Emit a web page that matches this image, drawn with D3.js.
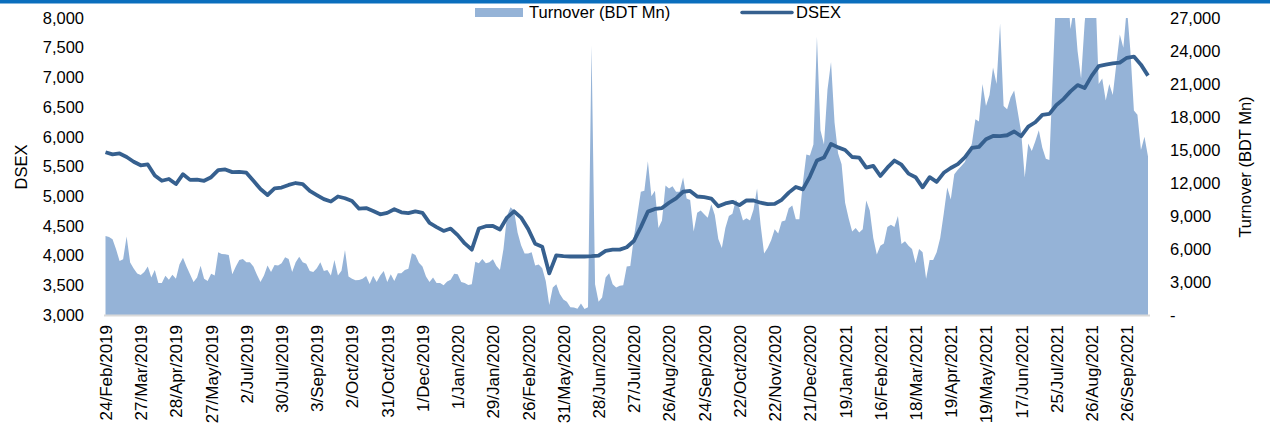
<!DOCTYPE html>
<html>
<head>
<meta charset="utf-8">
<script src="https://cdn.jsdelivr.net/npm/d3@7"></script>
<style>
  body { margin: 0; background: #fff; }
  svg { display: block; font-family: "Liberation Sans", Arial, sans-serif; }
</style>
</head>
<body>
<script>
// Chart size
var svgWidth = 1270;
var svgHeight = 428;

// x tick labels, one every 20 trading days
var tickLabels = ["24/Feb/2019", "27/Mar/2019", "28/Apr/2019", "27/May/2019", "2/Jul/2019",
  "30/Jul/2019", "3/Sep/2019", "2/Oct/2019", "31/Oct/2019", "1/Dec/2019", "1/Jan/2020",
  "29/Jan/2020", "26/Feb/2020", "31/May/2020", "28/Jun/2020", "27/Jul/2020", "26/Aug/2020",
  "24/Sep/2020", "22/Oct/2020", "22/Nov/2020", "21/Dec/2020", "19/Jan/2021", "16/Feb/2021",
  "18/Mar/2021", "19/Apr/2021", "19/May/2021", "17/Jun/2021", "25/Jul/2021", "26/Aug/2021",
  "26/Sep/2021"];
var tickEvery = 20;
var lastDay = 592;

// DSEX index, one value every 4 trading days
var dsexStep = 4;
var dsex = [
  5740, 5705, 5720, 5660, 5580, 5520, 5535, 5350, 5260, 5290,
  5205, 5370, 5275, 5280, 5260, 5320, 5438, 5450, 5405, 5410,
  5395, 5260, 5120, 5020, 5130, 5145, 5190, 5222, 5205, 5090,
  5020, 4950, 4910, 4995, 4965, 4918, 4790, 4800, 4750, 4695,
  4720, 4780, 4728, 4714, 4745, 4720, 4550, 4480, 4415, 4455,
  4345, 4205, 4100, 4455, 4495, 4499, 4440, 4640, 4745, 4640,
  4450, 4200, 4150, 3700, 4005, 3990, 3985, 3985, 3985, 3990,
  4000, 4080, 4100, 4100, 4140, 4245, 4480, 4740, 4785, 4800,
  4890, 4965, 5075, 5088, 4995, 4985, 4960, 4830, 4878, 4905,
  4850, 4930, 4928, 4890, 4865, 4870, 4940, 5060, 5155, 5115,
  5330, 5600, 5650, 5880, 5822, 5778, 5660, 5650, 5480, 5510,
  5340, 5480, 5600, 5530, 5380, 5320, 5150, 5320, 5240, 5394,
  5475, 5540, 5655, 5815, 5830, 5960, 6015, 6010, 6026, 6090,
  6010, 6170, 6245, 6370, 6385, 6535, 6635, 6765, 6870, 6820,
  7025, 7190, 7215, 7235, 7250, 7330, 7350, 7215, 7030
];

// Turnover (BDT Mn), one value every 2 trading days
var turnoverStep = 2;
var turnover = [
  7180, 7100, 6880, 5980, 4900, 5070, 7130, 4770, 4230, 3780,
  3630, 3900, 4400, 3420, 4100, 2900, 2900, 3560, 3200, 3650,
  3300, 4600, 5200, 4400, 3700, 3000, 3400, 4470, 3300, 3100,
  3750, 3600, 5700, 5550, 5530, 5450, 3700, 4400, 5000, 5100,
  4800, 4800, 4400, 3650, 3000, 3600, 4500, 3900, 4550, 4500,
  4700, 5250, 5100, 3900, 4800, 5300, 4800, 4650, 4000, 3900,
  4250, 4800, 4000, 4100, 3600, 5000, 3600, 4020, 5920, 3500,
  3300, 3150, 3180, 3300, 3550, 2810, 3560, 3000, 3600, 4000,
  3000, 3700, 3100, 3800, 3800, 4100, 4200, 5620, 5450, 4750,
  4400, 3500, 3000, 3400, 2900, 2900, 2700, 3050, 3200, 3750,
  3700, 3000, 2900, 2720, 2800, 4850, 4700, 5100, 4700, 4800,
  5070, 4450, 4100, 6000, 9000, 9800, 9500, 7500, 6350, 5600,
  5600, 5700, 4500, 4600, 4250, 3100, 900, 2500, 2800, 1900,
  1400, 1200, 700, 680, 560, 1050, 550, 700, 24500, 2800,
  1200, 1600, 3400, 3800, 2800, 2510, 2660, 2700, 4400, 4450,
  7000, 9100, 11200, 11300, 13980, 10800, 11300, 7900, 8600, 11780,
  11500, 11700, 11200, 11200, 12500, 10600, 10450, 7600, 9300, 9500,
  9150, 8850, 10060, 9100, 6900, 6100, 7900, 9000, 9200, 10500,
  9700, 8600, 8800, 8600, 9600, 11500, 8200, 5600, 6100, 6800,
  7800, 7400, 8500, 8600, 9700, 9950, 8700, 8700, 12000, 14600,
  14500, 15500, 25300, 16800, 15500, 20500, 23000, 17500, 14700, 13700,
  10200, 8800, 7600, 7900, 7490, 7800, 10400, 9500, 7000, 5500,
  6300, 6500, 8000, 8200, 8000, 9000, 6450, 6700, 6300, 6000,
  4700, 6000, 5700, 3300, 5000, 5000, 5700, 7000, 9200, 11600,
  10500, 12800, 13200, 13550, 13900, 14700, 15600, 17800, 17600, 21000,
  19000, 20000, 22500, 21000, 26500, 19000, 18700, 19800, 20400, 18500,
  16600, 12500, 15600, 14900, 15800, 16800, 15200, 14200, 14100, 22000,
  30000, 30000, 27500, 30000, 26000, 28000, 24000, 21500, 26500, 30000,
  27000, 30000, 21000, 21500, 19500, 21000, 20000, 22800, 25500, 24300,
  28000, 24000, 18600, 18200, 15000, 16200, 14400
];

// Axis ticks
var dsexTicks = [3000, 3500, 4000, 4500, 5000, 5500, 6000, 6500, 7000, 7500, 8000];
var turnoverTicks = [0, 3000, 6000, 9000, 12000, 15000, 18000, 21000, 24000, 27000];

// Plot area
var plot = { left: 104, right: 1150, top: 18, bottom: 315 };

var svg = d3.select("body")
  .append("svg")
  .attr("width", svgWidth)
  .attr("height", svgHeight);

// blue rule across the top
svg.append("rect")
  .attr("x", 0).attr("y", 0)
  .attr("width", svgWidth).attr("height", 3.5)
  .attr("fill", "#0a6ebd");

// Scales
var x = d3.scaleLinear()
  .domain([0, lastDay])
  .range([105.5, 1148]);

var yLeft = d3.scaleLinear()
  .domain([3000, 8000])
  .range([plot.bottom, plot.top]);

var yRight = d3.scaleLinear()
  .domain([0, 27000])
  .range([plot.bottom, plot.top]);

// clip the turnover area at the top of the plot
svg.append("clipPath")
  .attr("id", "plotClip")
  .append("rect")
  .attr("x", plot.left).attr("y", plot.top)
  .attr("width", plot.right - plot.left)
  .attr("height", plot.bottom - plot.top);

// Turnover area
var area = d3.area()
  .x(function(d, i) { return x(i * turnoverStep); })
  .y0(yRight(0))
  .y1(function(d) { return yRight(d); });

svg.append("path")
  .datum(turnover)
  .attr("clip-path", "url(#plotClip)")
  .attr("fill", "#95b3d7")
  .attr("d", area);

// DSEX line
var line = d3.line()
  .x(function(d, i) { return x(i * dsexStep); })
  .y(function(d) { return yLeft(d); });

svg.append("path")
  .datum(dsex)
  .attr("fill", "none")
  .attr("stroke", "#36608f")
  .attr("stroke-width", 3.8)
  .attr("stroke-linejoin", "round")
  .attr("d", line);

// x axis
var xTickValues = tickLabels.map(function(d, i) { return i * tickEvery; });

var xAxis = svg.append("g")
  .attr("transform", "translate(0," + plot.bottom + ")")
  .call(d3.axisBottom(x)
    .tickValues(xTickValues)
    .tickSize(0)
    .tickFormat(function(d, i) { return tickLabels[i]; }));

xAxis.select(".domain").remove();
xAxis.selectAll("text")
  .attr("transform", "rotate(-90)")
  .attr("text-anchor", "end")
  .attr("x", -10)
  .attr("y", 0)
  .attr("dy", "0.35em")
  .style("font-size", "17px")
  .style("fill", "#000");

// light grey baseline
svg.append("line")
  .attr("x1", plot.left).attr("x2", plot.right)
  .attr("y1", plot.bottom + 0.5).attr("y2", plot.bottom + 0.5)
  .attr("stroke", "#d9d9d9")
  .attr("stroke-width", 2);

// left axis
var leftAxis = svg.append("g")
  .attr("transform", "translate(" + plot.left + ",0)")
  .call(d3.axisLeft(yLeft)
    .tickValues(dsexTicks)
    .tickSize(0)
    .tickPadding(20)
    .tickFormat(d3.format(",")));
leftAxis.select(".domain").remove();
leftAxis.selectAll("text").style("font-size", "16.5px").style("fill", "#000");

// right axis
var rightAxis = svg.append("g")
  .attr("transform", "translate(" + plot.right + ",0)")
  .call(d3.axisRight(yRight)
    .tickValues(turnoverTicks)
    .tickSize(0)
    .tickPadding(20)
    .tickFormat(function(d) { return d === 0 ? "-" : d3.format(",")(d); }));
rightAxis.select(".domain").remove();
rightAxis.selectAll("text").style("font-size", "16.5px").style("fill", "#000");

// axis titles
svg.append("text")
  .attr("transform", "translate(27,167) rotate(-90)")
  .attr("text-anchor", "middle")
  .style("font-size", "16.5px")
  .text("DSEX");

svg.append("text")
  .attr("transform", "translate(1251,167) rotate(-90)")
  .attr("text-anchor", "middle")
  .style("font-size", "16.5px")
  .text("Turnover (BDT Mn)");

// legend
svg.append("rect")
  .attr("x", 475).attr("y", 8)
  .attr("width", 48).attr("height", 9)
  .attr("fill", "#95b3d7");

svg.append("text")
  .attr("x", 529).attr("y", 18)
  .style("font-size", "16.5px")
  .text("Turnover (BDT Mn)");

svg.append("line")
  .attr("x1", 742).attr("x2", 792)
  .attr("y1", 12.5).attr("y2", 12.5)
  .attr("stroke", "#36608f")
  .attr("stroke-width", 3.5)
  .attr("stroke-linecap", "round");

svg.append("text")
  .attr("x", 796).attr("y", 18)
  .style("font-size", "16.5px")
  .text("DSEX");
</script>
</body>
</html>
